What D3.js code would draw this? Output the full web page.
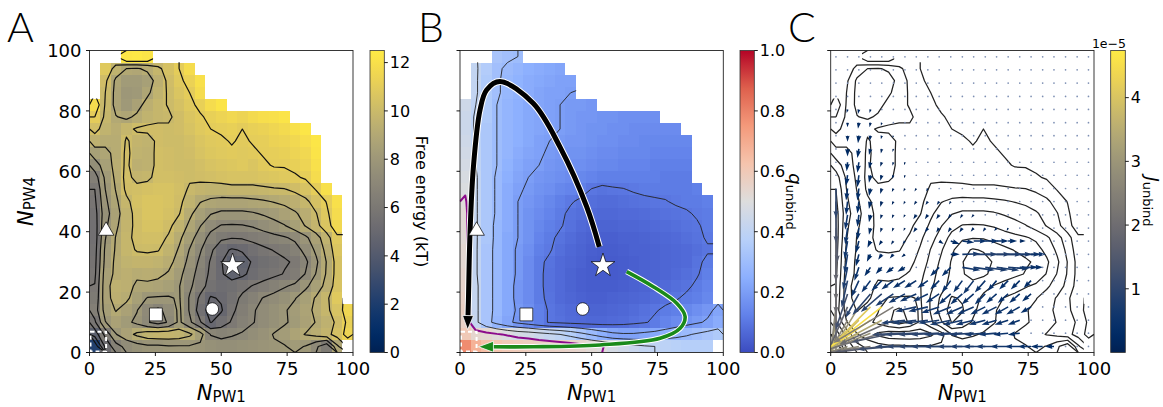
<!DOCTYPE html>
<html>
<head>
<meta charset="utf-8">
<script src="https://cdn.jsdelivr.net/npm/d3@7"></script>
<style>
  html, body { margin: 0; padding: 0; background: #fff; }
  svg text { font-family: "DejaVu Sans", sans-serif; fill: #000; }
</style>
</head>
<body>
<svg id="fig" width="1163" height="407"></svg>
<script>
// ---------------------------------------------------------------------------
// Data: 4-unit bins. Columns run N_PW1 = 0-4 ... 96-100, rows are listed from
// N_PW4 = 96-100 (top) down to 0-4 (bottom). "-" marks an unsampled bin;
// missing trailing entries are unsampled too.
// ---------------------------------------------------------------------------
const binWidth = 4;

// free energy, kT
const freeEnergyRows = [
  "- - - 12.3 12.4 12.2",
  "- 10.8 9.6 9.0 8.9 9.2 9.8 10.4 11.0 11.8",
  "- 10.2 8.8 8.2 8.2 8.5 9.4 10.2 10.8 11.3 12.0",
  "- 10.0 8.7 8.0 8.1 8.8 9.6 10.1 10.6 11.0 11.8",
  "11.8 9.9 8.7 8.1 8.6 9.4 9.8 10.05 10.4 10.8 11.2 11.8 12.2",
  "11.0 9.8 9.05 8.8 9.2 9.6 9.8 9.9 10.2 10.6 10.9 11.2 11.4 11.6 11.4 11.7 11.9 12.0 12.2",
  "10.3 9.6 9.3 9.8 10.1 10.2 10.2 10.1 10.2 10.5 10.8 11.0 11.1 11.2 11.0 11.2 11.3 11.5 11.7 12.0 12.3",
  "9.5 9.2 9.2 10.1 9.7 9.6 10.2 10.1 10.1 10.3 10.6 10.8 10.9 11.05 10.9 11.05 11.1 11.3 11.4 11.6 11.9 12.3",
  "8.5 8.8 9.2 10.2 9.6 9.5 10.3 10.2 10.1 10.2 10.5 10.7 10.8 10.9 10.8 10.9 11.05 11.1 11.2 11.4 11.6 12.2",
  "7.5 8.5 9.3 10.2 9.4 9.5 10.3 10.2 10.1 10.1 10.3 10.5 10.6 10.7 10.8 10.6 10.9 11.05 11.05 11.2 11.4 12.0",
  "6.5 8.2 9.2 10.3 9.7 9.8 10.3 10.3 10.2 10.1 10.2 10.3 10.4 10.5 10.5 10.5 10.6 10.7 10.8 10.9 11.1 11.8",
  "6.0 8.0 9.05 10.2 10.3 10.4 10.5 10.5 10.3 9.9 9.7 9.6 9.6 9.7 9.7 9.7 9.8 9.9 9.95 10.2 10.5 11.05 12.0",
  "5.8 7.8 8.8 9.8 10.4 10.6 10.6 10.5 10.2 9.6 9.05 8.8 8.7 8.7 8.7 8.8 8.9 9.05 9.2 9.4 9.8 10.4 11.05 12.0",
  "5.6 7.6 8.6 9.6 10.3 10.6 10.6 10.4 10.05 9.2 8.5 8.05 7.8 7.8 7.8 7.9 8.1 8.3 8.6 8.9 9.3 9.95 10.8 11.8",
  "5.5 7.8 8.8 9.7 10.2 10.5 10.5 10.2 9.6 8.8 8.05 7.3 6.95 6.9 6.95 7.1 7.4 7.7 7.95 8.5 9.05 9.7 10.6 11.6",
  "5.5 7.95 9.05 9.8 10.2 10.3 10.3 9.9 9.2 8.4 7.5 6.7 6.2 6.05 6.1 6.3 6.5 6.7 6.9 7.2 7.8 8.6 9.6 10.8",
  "5.6 8.2 9.1 9.8 10.05 10.1 10.05 9.6 8.9 7.95 7.1 6.2 5.3 4.9 5.1 5.5 5.8 6.05 6.2 6.6 7.3 8.2 9.3 10.6",
  "5.7 8.3 9.2 9.6 9.7 9.7 9.6 9.3 8.6 7.7 6.8 5.9 5.05 4.4 4.6 5.1 5.4 5.6 5.9 6.1 6.8 7.8 9.05 10.4",
  "5.8 8.5 9.2 9.4 9.2 9.3 9.2 8.9 8.3 7.4 6.6 5.8 5.1 4.6 4.8 5.3 5.6 5.8 6.05 6.3 7.05 8.05 9.1 10.4",
  "6.05 8.6 9.5 9.4 8.8 8.8 8.7 8.5 8.05 7.2 6.4 5.6 5.3 5.4 5.7 6.05 6.3 6.6 6.9 7.2 7.8 8.5 9.3 10.5",
  "6.2 8.6 9.4 9.2 8.5 7.95 7.9 7.9 8.1 6.9 5.8 4.9 5.1 5.6 6.2 6.6 7.05 7.3 7.6 7.95 8.5 9.1 9.8 10.8",
  "6.5 8.4 9.05 8.6 8.05 7.2 6.8 7.3 8.2 6.9 5.5 4.6 4.9 5.8 6.4 6.9 7.3 7.6 7.9 8.3 8.7 9.2 9.8 10.5 11.5",
  "5.8 7.95 8.6 8.2 7.8 7.1 6.6 7.1 8.2 7.2 6.1 4.95 5.5 6.1 6.6 6.95 7.3 7.6 7.9 8.2 8.6 9.05 9.5 10.2 11.2",
  "4.4 6.3 7.95 8.6 9.2 9.6 9.7 9.7 9.6 9.2 8.4 6.95 6.7 6.9 7.1 7.4 7.7 8.05 8.3 8.7 9.05 9.3 9.7 10.4 11.4",
  "2.2 5.2 6.6 7.3 7.6 7.8 7.8 7.9 7.9 7.9 7.8 7.6 7.5 7.5 7.6 7.7 7.8 7.9 7.95 8.2 7.95 7.2 6.2 8.8 -"
];

// unbinding committor q_unbind
const committorRows = [
  "- - - 0.33 0.31 0.30",
  "- 0.41 0.36 0.31 0.29 0.27 0.25 0.24 0.23 0.22",
  "- 0.41 0.35 0.31 0.28 0.26 0.24 0.23 0.22 0.21 0.21",
  "- 0.41 0.35 0.31 0.28 0.26 0.24 0.22 0.21 0.21 0.20",
  "0.45 0.40 0.35 0.30 0.27 0.25 0.23 0.22 0.21 0.20 0.19 0.19 0.18",
  "0.44 0.39 0.35 0.30 0.27 0.25 0.23 0.22 0.21 0.20 0.19 0.18 0.18 0.17 0.17 0.16 0.16 0.16 0.16",
  "0.44 0.39 0.34 0.30 0.27 0.25 0.23 0.22 0.21 0.20 0.19 0.18 0.17 0.17 0.16 0.16 0.15 0.15 0.15 0.15 0.15",
  "0.45 0.39 0.34 0.30 0.27 0.25 0.23 0.21 0.20 0.19 0.18 0.18 0.17 0.16 0.16 0.15 0.15 0.14 0.14 0.14 0.14 0.14",
  "0.46 0.40 0.34 0.30 0.27 0.24 0.22 0.21 0.19 0.18 0.17 0.17 0.16 0.15 0.15 0.14 0.14 0.14 0.13 0.13 0.13 0.13",
  "0.47 0.40 0.34 0.30 0.26 0.23 0.21 0.20 0.18 0.17 0.16 0.16 0.15 0.14 0.14 0.13 0.13 0.13 0.12 0.12 0.12 0.12",
  "0.48 0.41 0.34 0.29 0.25 0.22 0.20 0.18 0.17 0.16 0.15 0.14 0.13 0.12 0.12 0.12 0.12 0.12 0.12 0.11 0.11 0.11",
  "0.49 0.41 0.34 0.29 0.24 0.21 0.19 0.17 0.16 0.14 0.13 0.12 0.098 0.09 0.095 0.098 0.105 0.11 0.11 0.11 0.11 0.11 0.12",
  "0.51 0.41 0.34 0.29 0.24 0.20 0.18 0.16 0.14 0.12 0.105 0.09 0.08 0.075 0.075 0.08 0.085 0.09 0.095 0.098 0.105 0.11 0.11 0.12",
  "0.52 0.41 0.34 0.29 0.24 0.20 0.17 0.15 0.13 0.11 0.09 0.08 0.07 0.065 0.065 0.07 0.07 0.075 0.08 0.085 0.09 0.095 0.105 0.11",
  "0.52 0.41 0.34 0.28 0.24 0.20 0.17 0.14 0.12 0.105 0.085 0.07 0.06 0.055 0.055 0.06 0.06 0.065 0.07 0.075 0.08 0.09 0.095 0.11",
  "0.52 0.41 0.34 0.28 0.23 0.20 0.17 0.13 0.11 0.09 0.075 0.06 0.05 0.045 0.045 0.05 0.05 0.055 0.06 0.065 0.07 0.08 0.09 0.105",
  "0.53 0.41 0.33 0.28 0.23 0.19 0.16 0.12 0.105 0.08 0.065 0.055 0.045 0.04 0.04 0.045 0.05 0.05 0.055 0.06 0.065 0.07 0.08 0.095",
  "0.53 0.41 0.33 0.28 0.23 0.19 0.15 0.11 0.09 0.07 0.06 0.05 0.04 0.035 0.035 0.04 0.045 0.05 0.055 0.06 0.065 0.07 0.09 0.11",
  "0.54 0.41 0.33 0.28 0.23 0.19 0.15 0.11 0.085 0.07 0.055 0.045 0.04 0.035 0.035 0.04 0.045 0.05 0.055 0.06 0.07 0.08 0.095 0.12",
  "0.55 0.42 0.33 0.28 0.23 0.18 0.15 0.11 0.085 0.07 0.055 0.045 0.04 0.04 0.04 0.045 0.05 0.055 0.06 0.07 0.08 0.09 0.11 0.13",
  "0.56 0.42 0.33 0.28 0.23 0.18 0.15 0.11 0.09 0.07 0.06 0.05 0.045 0.045 0.05 0.055 0.06 0.065 0.075 0.085 0.095 0.11 0.12 0.14",
  "0.57 0.42 0.33 0.28 0.23 0.19 0.16 0.12 0.095 0.08 0.07 0.06 0.055 0.055 0.06 0.065 0.075 0.085 0.095 0.11 0.12 0.14 0.16 0.18 0.22",
  "0.56 0.42 0.33 0.27 0.22 0.18 0.15 0.12 0.095 0.085 0.075 0.07 0.065 0.065 0.07 0.075 0.085 0.095 0.11 0.13 0.15 0.17 0.19 0.21 0.24",
  "0.60 0.54 0.53 0.51 0.49 0.47 0.46 0.44 0.42 0.40 0.37 0.33 0.29 0.25 0.22 0.21 0.21 0.22 0.23 0.25 0.27 0.29 0.31 0.33 0.35",
  "0.78 0.68 0.64 0.62 0.60 0.59 0.58 0.57 0.565 0.56 0.55 0.54 0.52 0.505 0.47 0.45 0.43 0.41 0.40 0.39 0.38 0.37 0.37 0.37 -"
];

const freeEnergyLevels = [1, 2, 3, 4, 5, 6, 7, 8, 9, 10, 11];
const committorLevels = [0.1, 0.2, 0.3, 0.4];
const committorHalf = [0.5];

// flux field J_unbind (units of 1e-5) on the quiver grid; [column, row, Jx, Jy]
const quiverPositions = [2.0, 6.4, 10.7, 15.1, 19.4, 23.8, 28.2, 32.5, 36.9, 41.2, 45.6, 50.0,
                         54.3, 58.7, 63.0, 67.4, 71.8, 76.1, 80.5, 84.8, 89.2, 93.6, 97.9];
const fluxArrows = [
  [0,12,0,-1.0],[0,11,0,-1.4],[0,10,0.05,-1.6],[0,9,0,-1.8],[0,8,0,-2.0],[0,7,0,-2.0],[0,6,0,-2.1],
  [0,5,0,-2.2],[0,4,0,-2.3],[0,3,-0.3,-2.6],[0,2,-0.5,-3.0],[0,1,-0.9,-3.6],[0,0,-2.0,-1.0],
  [1,17,0,-0.15],[1,16,0,-0.2],[1,15,0,-0.25],[1,14,-0.03,-0.3],[1,13,-0.05,-0.35],[1,12,-0.05,-0.4],
  [1,11,-0.05,-0.45],[1,10,-0.08,-0.5],[1,9,-0.08,-0.55],[1,8,-0.1,-0.6],[1,7,-0.1,-0.65],[1,6,-0.15,-0.75],
  [1,5,-0.2,-0.9],[1,4,-0.4,-1.2],[1,3,-0.7,-1.6],[1,2,-1.3,-2.3],[1,1,-2.4,-2.3],[1,0,-2.6,-0.8],
  [2,3,-1.6,-2.6],[2,2,-2.7,-2.7],[2,1,-3.3,-1.9],[2,0,-2.6,-0.5],[3,3,-2.9,-2.9],[3,2,-3.6,-2.5],
  [3,1,-2.7,-1.1],[3,0,-2.2,-0.3],[4,3,-3.6,-2.8],[4,2,-3.0,-1.6],[4,1,-2.0,-0.6],[4,0,-1.6,-0.2],
  [5,3,-2.0,-1.2],[5,2,-1.8,-0.8],[5,1,-1.4,-0.3],[5,0,-1.2,-0.1],
  [2,17,-0.03,-0.2],[2,16,-0.03,-0.25],[2,15,-0.05,-0.3],[2,14,-0.05,-0.35],[2,13,-0.05,-0.4],[2,12,-0.05,-0.4],
  [2,11,-0.05,-0.4],[2,10,-0.05,-0.4],[2,9,-0.05,-0.4],[2,8,-0.1,-0.4],[2,7,-0.1,-0.4],[2,6,-0.15,-0.45],
  [2,5,-0.25,-0.55],[2,4,-0.45,-0.8],
  [3,17,-0.03,-0.15],[3,16,-0.03,-0.18],[3,15,-0.05,-0.2],[3,14,-0.05,-0.22],[3,13,-0.05,-0.25],[3,12,-0.05,-0.25],
  [3,11,-0.05,-0.25],[3,10,-0.05,-0.25],[3,9,-0.05,-0.22],[3,8,-0.1,-0.22],[3,7,-0.12,-0.25],[3,6,-0.2,-0.3],
  [3,5,-0.3,-0.4],[3,4,-0.6,-0.7],
  [4,16,-0.03,-0.12],[4,15,-0.03,-0.15],[4,14,-0.05,-0.15],[4,13,-0.05,-0.18],[4,12,-0.05,-0.18],[4,11,-0.05,-0.18],
  [4,10,-0.05,-0.15],[4,9,-0.05,-0.15],[4,8,-0.1,-0.15],[4,7,-0.12,-0.18],[4,6,-0.2,-0.22],[4,5,-0.35,-0.35],[4,4,-0.7,-0.6],
  [5,15,-0.03,-0.1],[5,14,-0.03,-0.12],[5,13,-0.05,-0.12],[5,12,-0.05,-0.12],[5,11,-0.05,-0.12],[5,10,-0.05,-0.12],
  [5,9,-0.05,-0.12],[5,8,-0.08,-0.12],[5,7,-0.12,-0.14],[5,6,-0.25,-0.2],[5,5,-0.4,-0.3],[5,4,-0.6,-0.4],
  [6,14,-0.03,-0.1],[6,13,-0.03,-0.1],[6,12,-0.05,-0.1],[6,11,-0.05,-0.1],[6,10,-0.05,-0.1],[6,9,-0.05,-0.1],
  [6,8,-0.08,-0.1],[6,7,-0.12,-0.1],[6,6,-0.25,-0.15],[6,5,-0.4,-0.25],[6,4,-0.55,-0.3],
  [6,0,-1.0,0],[7,0,-1.0,0],[8,0,-1.0,0],[9,0,-0.95,0],[10,0,-0.9,0],[11,0,-0.85,0],[12,0,-0.8,0],
  [13,0,-0.75,0],[14,0,-0.7,0],[15,0,-0.6,0],[16,0,-0.5,0],[17,0,-0.45,0],[18,0,-0.4,0],[19,0,-0.3,0],
  [6,1,-1.1,-0.05],[7,1,-1.05,-0.05],[8,1,-1.0,-0.05],[9,1,-0.95,-0.05],[10,1,-0.9,-0.05],[11,1,-0.85,-0.05],
  [12,1,-0.8,-0.05],[13,1,-0.7,-0.05],[14,1,-0.6,-0.05],[15,1,-0.5,-0.05],[16,1,-0.4,-0.05],
  [6,2,-0.8,-0.1],[7,2,-0.8,-0.1],[8,2,-0.75,-0.1],[9,2,-0.7,-0.1],[10,2,-0.7,-0.15],[11,2,-0.65,-0.15],
  [12,2,-0.6,-0.15],[13,2,-0.55,-0.15],[14,2,-0.5,-0.15],[15,2,-0.45,-0.15],[16,2,-0.4,-0.15],
  [7,3,-0.7,-0.15],[8,3,-0.65,-0.15],[9,3,-0.6,-0.2],[10,3,-0.6,-0.25],[11,3,-0.55,-0.25],[12,3,-0.55,-0.25],
  [13,3,-0.5,-0.25],[14,3,-0.5,-0.25],[15,3,-0.45,-0.25],[16,3,-0.45,-0.25],[17,3,-0.35,-0.2],
  [7,4,-0.55,-0.25],[8,4,-0.5,-0.25],[9,4,-0.45,-0.3],[10,4,-0.4,-0.35],[11,4,-0.4,-0.35],[12,4,-0.4,-0.35],
  [13,4,-0.35,-0.35],[14,4,-0.35,-0.3],[15,4,-0.35,-0.3],[16,4,-0.35,-0.3],[17,4,-0.3,-0.25],
  [7,5,-0.4,-0.25],[8,5,-0.35,-0.25],[9,5,-0.3,-0.3],[10,5,-0.3,-0.4],[11,5,-0.3,-0.4],[12,5,-0.35,-0.45],
  [13,5,-0.35,-0.4],[14,5,-0.3,-0.35],[15,5,-0.3,-0.3],[16,5,-0.3,-0.3],[17,5,-0.25,-0.25],
  [9,6,-0.3,-0.3],[10,6,-0.3,-0.3],[11,6,0.6,-0.1],[12,6,0.7,-0.1],[13,6,0.75,-0.1],[14,6,0.75,-0.1],
  [15,6,0.7,-0.05],[16,6,0.6,0],[17,6,0.4,0],
  [10,7,0.3,0],[11,7,0.6,0.02],[12,7,0.8,0],[13,7,0.85,0],[14,7,0.85,0],[15,7,0.8,0],[16,7,0.7,0],[17,7,0.5,0],
  [9,8,0.15,-0.1],[10,8,0.3,-0.1],[11,8,0.4,-0.05],[12,8,0.45,0],[13,8,0.45,0],[14,8,0.4,0],[15,8,0.3,0],[16,8,0.2,0],
  [7,9,-0.1,-0.15],[8,9,-0.1,-0.15],[9,9,-0.1,-0.15],[10,9,-0.1,-0.15],[11,9,-0.1,-0.15],[12,9,-0.1,-0.12],
  [13,9,-0.08,-0.12],[14,9,-0.08,-0.1],[15,9,-0.05,-0.1],
  [7,10,-0.1,-0.15],[8,10,-0.1,-0.15],[9,10,-0.1,-0.15],[10,10,-0.1,-0.12],[11,10,-0.08,-0.12],[12,10,-0.08,-0.1],
  [7,11,-0.08,-0.12],[8,11,-0.08,-0.12],[9,11,-0.08,-0.12],[10,11,-0.06,-0.1],
  [7,12,-0.06,-0.1],[8,12,-0.06,-0.1],
  [1,18,-0.03,-0.12],[2,18,-0.03,-0.15],[3,18,-0.03,-0.12],[4,17,-0.03,-0.1],[5,16,-0.03,-0.08]
];

// state markers and annotations (data coordinates)
const stateMarkers = [
  { shape: "triangle", x: 6.3, y: 40.8 },
  { shape: "square",   x: 25.2, y: 12.6 },
  { shape: "circle",   x: 46.6, y: 14.4 },
  { shape: "star",     x: 54.3, y: 28.8 }
];
const unboundBox = [6.3, 6.9];
const pathwayBlack = [[52.9,35.0],[48.1,48.3],[38,68],[27.8,82.5],[15.2,89.7],[10.1,86.9],[7.6,80.3],
                      [5.1,61.5],[3.8,39.5],[3.2,17.4],[2.9,7.6]];
const pathwayGreen = [[63.3,26.8],[73.4,21.8],[82.3,16.3],[85.5,11.9],[83.6,8.0],[76,4.7],[53.2,2.5],
                      [27.8,1.9],[7.0,1.9]];

const xTicks = [0, 25, 50, 75, 100];
const yTicks = [0, 20, 40, 60, 80, 100];
const freeEnergyRange = [0, 12.5], freeEnergyTicks = [0, 2, 4, 6, 8, 10, 12];
const committorRange = [0, 1], committorTicks = [0, 0.2, 0.4, 0.6, 0.8, 1.0];
const fluxRange = [0, 4.74], fluxTicks = [1, 2, 3, 4];

// diverging blue-white-red map for the committor
const coolwarmStops = ["#3b4cc0", "#6282ea", "#8db0fe", "#b8d0f9", "#dddddd",
                       "#f5c4ad", "#f49a7b", "#de604d", "#b40426"];

// ---------------------------------------------------------------------------
const NX = 25, NY = 25;
const parseGrid = rows => rows.map(r => {
  const t = r.trim().split(/\s+/);
  while (t.length < NX) t.push("-");
  return t.map(s => (s === "-" ? null : +s));
});
const feGrid = parseGrid(freeEnergyRows);
const qGrid = parseGrid(committorRows);

const coolwarm = d3.piecewise(d3.interpolateRgb, coolwarmStops);
const cividis = d3.interpolateCividis;

// gaps are bridged with neighbouring values only so contour lines stay continuous;
// the lines are clipped back to the sampled bins afterwards
function contourField(grid) {
  const out = grid.map(r => r.slice());
  for (let pass = 0; pass < 80; pass++) {
    const prev = out.map(r => r.slice());
    let missing = 0;
    for (let j = 0; j < NY; j++) for (let i = 0; i < NX; i++) {
      if (prev[j][i] !== null) continue;
      let s = 0, n = 0;
      [[1,0],[-1,0],[0,1],[0,-1]].forEach(([di, dj]) => {
        const row = prev[j + dj];
        const v = row ? row[i + di] : undefined;
        if (v !== null && v !== undefined) { s += v; n++; }
      });
      if (n) out[j][i] = s / n; else missing++;
    }
    if (!missing) break;
  }
  return out.flat();
}

// iso-lines as open polylines (segments along the outer frame are dropped)
function isoLines(flat, levels) {
  const onFrame = p => p[0] <= 0 || p[0] >= NX || p[1] <= 0 || p[1] >= NY;
  return d3.contours().size([NX, NY]).thresholds(levels)(flat).map(mp => {
    const lines = [];
    mp.coordinates.forEach(poly => poly.forEach(ring => {
      let cur = [];
      for (let k = 0; k < ring.length - 1; k++) {
        const a = ring[k], b = ring[k + 1];
        if (onFrame(a) && onFrame(b)) { if (cur.length > 1) lines.push(cur); cur = []; continue; }
        if (!cur.length) cur.push(a);
        cur.push(b);
      }
      if (cur.length > 1) lines.push(cur);
    }));
    return { value: mp.value, lines };
  });
}

const feLines = isoLines(contourField(feGrid), freeEnergyLevels);
const qFlat = contourField(qGrid);
const qLines = isoLines(qFlat, committorLevels);
const qHalfLines = isoLines(qFlat, committorHalf);

// ---------------------------------------------------------------------------
const svg = d3.select("#fig");
const defs = svg.append("defs");
const plotTop = 50.5, plotBottom = 352.5;
const yScale = d3.scaleLinear([0, 100], [plotBottom, plotTop]);
const panelSpec = [
  { key: "A", x0: 89.5, x1: 353,   letterX: 7 },
  { key: "B", x0: 460,  x1: 723.3, letterX: 418 },
  { key: "C", x0: 830.7, x1: 1094, letterX: 788 }
];
panelSpec.forEach(p => { p.x = d3.scaleLinear([0, 100], [p.x0, p.x1]); });
const [pA, pB, pC] = panelSpec;

function clipRect(id, p) {
  defs.append("clipPath").attr("id", id).append("rect")
    .attr("x", p.x0).attr("y", plotTop).attr("width", p.x1 - p.x0).attr("height", plotBottom - plotTop);
}
function clipMask(id, p) {
  const cp = defs.append("clipPath").attr("id", id);
  feGrid.forEach((row, r) => row.forEach((v, c) => {
    if (v === null) return;
    const x0 = p.x(c * binWidth), x1 = p.x((c + 1) * binWidth);
    const yT = yScale(100 - r * binWidth), yB = yScale(100 - (r + 1) * binWidth);
    cp.append("rect").attr("x", x0 - 0.3).attr("y", yT - 0.3).attr("width", x1 - x0 + 0.6).attr("height", yB - yT + 0.6);
  }));
}
panelSpec.forEach(p => { clipRect("frame" + p.key, p); clipMask("mask" + p.key, p); });

function heatmap(p, grid, color) {
  const g = svg.append("g").attr("clip-path", `url(#frame${p.key})`).attr("shape-rendering", "crispEdges");
  grid.forEach((row, r) => row.forEach((v, c) => {
    if (v === null) return;
    const x0 = p.x(c * binWidth), x1 = p.x((c + 1) * binWidth);
    const yT = yScale(100 - r * binWidth), yB = yScale(100 - (r + 1) * binWidth);
    g.append("rect").attr("x", x0).attr("y", yT).attr("width", x1 - x0).attr("height", yB - yT).attr("fill", color(v));
  }));
}

function drawIso(p, sets, stroke, width) {
  const g = svg.append("g").attr("clip-path", `url(#mask${p.key})`);
  const line = d3.line().x(d => p.x(d[0] * binWidth)).y(d => yScale(100 - d[1] * binWidth));
  sets.forEach(s => s.lines.forEach(l => {
    g.append("path").attr("d", line(l)).attr("fill", "none")
      .attr("stroke", stroke).attr("stroke-width", width).attr("stroke-linejoin", "round");
  }));
}

function markers(p) {
  const g = svg.append("g");
  const sym = { triangle: [d3.symbolTriangle, 105], square: [d3.symbolSquare, 165],
                circle: [d3.symbolCircle, 125], star: [d3.symbolStar, 175] };
  stateMarkers.forEach(m => {
    const [type, size] = sym[m.shape];
    g.append("path").attr("d", d3.symbol(type, size)())
      .attr("transform", `translate(${p.x(m.x)},${yScale(m.y) + (m.shape === "triangle" ? 1.5 : 0)})`)
      .attr("fill", "#fff").attr("stroke", "#000").attr("stroke-width", 0.7);
  });
}

function dashedBox(p) {
  svg.append("rect")
    .attr("x", p.x(0) + 1).attr("y", yScale(unboundBox[1]))
    .attr("width", p.x(unboundBox[0]) - p.x(0) - 1).attr("height", yScale(0) - yScale(unboundBox[1]) - 1)
    .attr("fill", "none").attr("stroke", "#fff").attr("stroke-width", 2).attr("stroke-dasharray", "4,3");
}

function axes(p, withYLabels) {
  const g = svg.append("g");
  g.append("rect").attr("x", p.x0).attr("y", plotTop).attr("width", p.x1 - p.x0).attr("height", plotBottom - plotTop)
    .attr("fill", "none").attr("stroke", "#222").attr("stroke-width", 0.9);
  xTicks.forEach(t => {
    const x = p.x(t);
    g.append("line").attr("x1", x).attr("x2", x).attr("y1", plotBottom).attr("y2", plotBottom + 3.5)
      .attr("stroke", "#000").attr("stroke-width", 0.9);
    g.append("text").attr("x", x).attr("y", 375).attr("text-anchor", "middle").attr("font-size", 18).text(t);
  });
  yTicks.forEach(t => {
    const y = yScale(t);
    g.append("line").attr("x1", p.x0 - 3.5).attr("x2", p.x0).attr("y1", y).attr("y2", y)
      .attr("stroke", "#000").attr("stroke-width", 0.9);
    if (withYLabels) g.append("text").attr("x", p.x0 - 8).attr("y", y + 6.6)
      .attr("text-anchor", "end").attr("font-size", 18).text(t);
  });
  // x label: N_PW1
  const xl = g.append("text").attr("x", (p.x0 + p.x1) / 2).attr("y", 399.5).attr("text-anchor", "middle");
  xl.append("tspan").attr("font-size", 21).attr("font-style", "italic").text("N");
  xl.append("tspan").attr("font-size", 15).attr("dy", 2.3).text("PW1");
  // panel letter
  svg.append("text").attr("x", p.letterX).attr("y", 42).attr("font-size", 41)
    .style("font-family", "Lato, 'DejaVu Sans', sans-serif").style("font-weight", 300).text(p.key);
}

function colorbar(key, x0, x1, interp, range, ticks, fmt, labelX, labelParts) {
  const grad = defs.append("linearGradient").attr("id", "grad" + key)
    .attr("x1", 0).attr("y1", 1).attr("x2", 0).attr("y2", 0);
  d3.range(0, 41).forEach(k => grad.append("stop").attr("offset", k / 40).attr("stop-color", interp(k / 40)));
  const s = d3.scaleLinear(range, [plotBottom, plotTop]);
  svg.append("rect").attr("x", x0).attr("y", plotTop).attr("width", x1 - x0).attr("height", plotBottom - plotTop)
    .attr("fill", `url(#grad${key})`).attr("stroke", "#333").attr("stroke-width", 0.8);
  ticks.forEach(t => {
    const y = s(t);
    svg.append("line").attr("x1", x1).attr("x2", x1 + 3.5).attr("y1", y).attr("y2", y)
      .attr("stroke", "#000").attr("stroke-width", 0.9);
    svg.append("text").attr("x", x1 + 5.5).attr("y", y + 5.8).attr("font-size", 16).text(fmt(t));
  });
  const cy = (plotTop + plotBottom) / 2;
  const lab = svg.append("text").attr("transform", `translate(${labelX},${cy}) rotate(90)`)
    .attr("text-anchor", "middle");
  labelParts(lab);
}

// ---------------------------------------------------------------------------
// Panel A: free energy surface
heatmap(pA, feGrid, v => cividis((v - freeEnergyRange[0]) / (freeEnergyRange[1] - freeEnergyRange[0])));
drawIso(pA, feLines, "#111", 1.2);
dashedBox(pA);
markers(pA);
axes(pA, true);
colorbar("A", 370, 384.3, cividis, freeEnergyRange, freeEnergyTicks, d3.format("d"), 416, t => {
  t.attr("font-size", 16).text("Free energy (kT)");
});
// y label: N_PW4
{
  const yl = svg.append("text").attr("transform", `translate(33,${(plotTop + plotBottom) / 2}) rotate(-90)`)
    .attr("text-anchor", "middle");
  yl.append("tspan").attr("font-size", 21).attr("font-style", "italic").text("N");
  yl.append("tspan").attr("font-size", 15).attr("dy", 2.3).text("PW4");
}

// Panel B: committor with pathways
heatmap(pB, qGrid, coolwarm);
drawIso(pB, qLines, "#222", 0.9);
drawIso(pB, qHalfLines, "#8b0a8b", 2.0);
dashedBox(pB);

function pathway(p, pts, color, width, headLen, headW) {
  const px = pts.map(d => [p.x(d[0]), yScale(d[1])]);
  const tip = px[px.length - 1], prev = px[px.length - 2];
  const ang = Math.atan2(tip[1] - prev[1], tip[0] - prev[0]);
  const ux = Math.cos(ang), uy = Math.sin(ang);
  const shaft = px.slice(0, -1).concat([[tip[0] - ux * headLen * 0.85, tip[1] - uy * headLen * 0.85]]);
  const line = d3.line().curve(d3.curveCatmullRom.alpha(0.5));
  const g = svg.append("g");
  g.append("path").attr("d", line(shaft)).attr("fill", "none").attr("stroke", "#fff")
    .attr("stroke-width", width + 2).attr("stroke-linecap", "butt");
  g.append("path").attr("d", line(shaft)).attr("fill", "none").attr("stroke", color)
    .attr("stroke-width", width).attr("stroke-linecap", "butt");
  const bx = tip[0] - ux * headLen, by = tip[1] - uy * headLen;
  const head = [tip, [bx - uy * headW / 2, by + ux * headW / 2], [bx + uy * headW / 2, by - ux * headW / 2]];
  g.append("path").attr("d", "M" + head.map(d => d.join(",")).join("L") + "Z")
    .attr("fill", color).attr("stroke", "#fff").attr("stroke-width", 0.8);
}
pathway(pB, pathwayBlack, "#000", 5, 14, 11);
pathway(pB, pathwayGreen, "#1a8a1a", 3.6, 15, 11);
markers(pB);
axes(pB, false);
colorbar("B", 740, 754.3, coolwarm, committorRange, committorTicks, d3.format(".1f"), 789, t => {
  t.append("tspan").attr("font-size", 18).attr("font-style", "italic").text("q");
  t.append("tspan").attr("font-size", 13).attr("dy", 3).text("unbind");
});

// Panel C: reactive flux
drawIso(pC, feLines, "#222", 1.25);
{
  const g = svg.append("g").attr("clip-path", "url(#frameC)");
  const pxPerUnit = 30;
  const lookup = new Map(fluxArrows.map(a => [a[0] + "," + a[1], a]));
  quiverPositions.forEach((qx, i) => quiverPositions.forEach((qy, j) => {
    const X = pC.x(qx), Y = yScale(qy);
    const a = lookup.get(i + "," + j);
    if (!a) {
      g.append("circle").attr("cx", X).attr("cy", Y).attr("r", 0.85).attr("fill", "#7d8fb3");
      return;
    }
    const mag = Math.hypot(a[2], a[3]);
    const dx = a[2] * pxPerUnit, dy = -a[3] * pxPerUnit;
    const L = Math.hypot(dx, dy);
    let w = 1.6, hl = 7.5, hal = 6.8, hw = 5.0;
    if (L < hl) { const s = L / hl; w *= s; hl *= s; hal *= s; hw *= s; }
    const shape = [[0, -w / 2], [L - hal, -w / 2], [L - hl, -hw / 2], [L, 0], [L - hl, hw / 2], [L - hal, w / 2], [0, w / 2]];
    const ang = Math.atan2(dy, dx) * 180 / Math.PI;
    g.append("path").attr("d", "M" + shape.map(d => d.join(",")).join("L") + "Z")
      .attr("transform", `translate(${X},${Y}) rotate(${ang})`)
      .attr("fill", cividis(Math.min(1, mag / fluxRange[1])));
  }));
}
axes(pC, false);
colorbar("C", 1110.7, 1125.3, cividis, fluxRange, fluxTicks, d3.format("d"), 1146, t => {
  t.append("tspan").attr("font-size", 18).attr("font-style", "italic").text("J");
  t.append("tspan").attr("font-size", 13).attr("dy", 3).text("unbind");
});
svg.append("text").attr("x", 1126).attr("y", 47.5).attr("text-anchor", "end").attr("font-size", 12.5).text("1e\u22125");
</script>
</body>
</html>
